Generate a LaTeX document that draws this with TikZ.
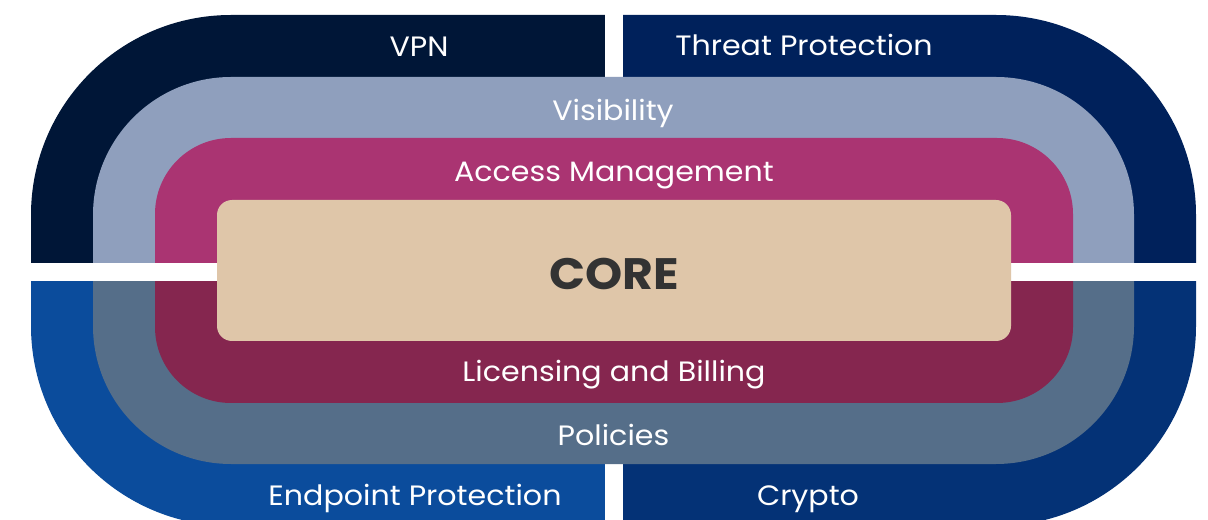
\documentclass[tikz,border=0pt]{standalone}
\usepackage{fontspec}
\setmainfont{Poppins}[FakeStretch=1.075]
\definecolor{cVPN}{HTML}{001637}
\definecolor{cThreat}{HTML}{00215B}
\definecolor{cEndpoint}{HTML}{0B4C9C}
\definecolor{cCrypto}{HTML}{043276}
\definecolor{cVis}{HTML}{8F9FBD}
\definecolor{cPol}{HTML}{556E89}
\definecolor{cAcc}{HTML}{AA3472}
\definecolor{cLic}{HTML}{85264F}
\definecolor{cCore}{HTML}{DFC6A9}
\definecolor{cCoreText}{HTML}{333333}
\begin{document}
\begin{tikzpicture}[x=1bp,y=-1bp,
  lbl/.style={text=white,font=\fontsize{28bp}{32bp}\selectfont,anchor=base,inner sep=0pt},
  corelbl/.style={text=cCoreText,font=\fontsize{44bp}{48bp}\selectfont\bfseries,anchor=base,inner sep=0pt}]
\useasboundingbox (0,0) rectangle (1208,520);
\clip (0,0) rectangle (1208,520);
% outer ring quadrants
\begin{scope}
  \clip (0,0) rectangle (614,272);
  \fill[cVPN, rounded corners=200bp] (31,15) rectangle (1196,526);
\end{scope}
\begin{scope}
  \clip (614,0) rectangle (1208,272);
  \fill[cThreat, rounded corners=200bp] (31,15) rectangle (1196,526);
\end{scope}
\begin{scope}
  \clip (0,272) rectangle (614,540);
  \fill[cEndpoint, rounded corners=200bp] (31,15) rectangle (1196,526);
\end{scope}
\begin{scope}
  \clip (614,272) rectangle (1208,540);
  \fill[cCrypto, rounded corners=200bp] (31,15) rectangle (1196,526);
\end{scope}
% vertical gaps in outer ring
\fill[white] (605,0) rectangle (623,80);
\fill[white] (605,460) rectangle (623,520);
% visibility / policies
\begin{scope}
  \clip (0,0) rectangle (1208,272);
  \fill[cVis, rounded corners=138bp] (93,77) rectangle (1134,464);
\end{scope}
\begin{scope}
  \clip (0,272) rectangle (1208,540);
  \fill[cPol, rounded corners=138bp] (93,77) rectangle (1134,464);
\end{scope}
% access / licensing
\begin{scope}
  \clip (0,0) rectangle (1208,272);
  \fill[cAcc, rounded corners=76bp] (155,138) rectangle (1073,403);
\end{scope}
\begin{scope}
  \clip (0,272) rectangle (1208,540);
  \fill[cLic, rounded corners=76bp] (155,138) rectangle (1073,403);
\end{scope}
% horizontal gap
\fill[white] (0,263) rectangle (1208,281);
% core
\fill[cCore, rounded corners=15bp] (217,200) rectangle (1011,341);
% labels
\node[lbl] (vpn) at (419,57) {VPN};
\node[lbl] (threat) at (804,56) {Threat Protection};
\node[lbl] (vis) at (613,121) {Visibility};
\node[lbl] (acc) at (614,182) {Access Management};
\node[corelbl] (core) at (614,290) {CORE};
\node[lbl] (lic) at (614,382) {Licensing and Billing};
\node[lbl] (pol) at (613.5,445) {Policies};
\node[lbl] (end) at (415,505) {Endpoint Protection};
\node[lbl] (crypto) at (808,505) {Crypto};
\end{tikzpicture}
\end{document}
